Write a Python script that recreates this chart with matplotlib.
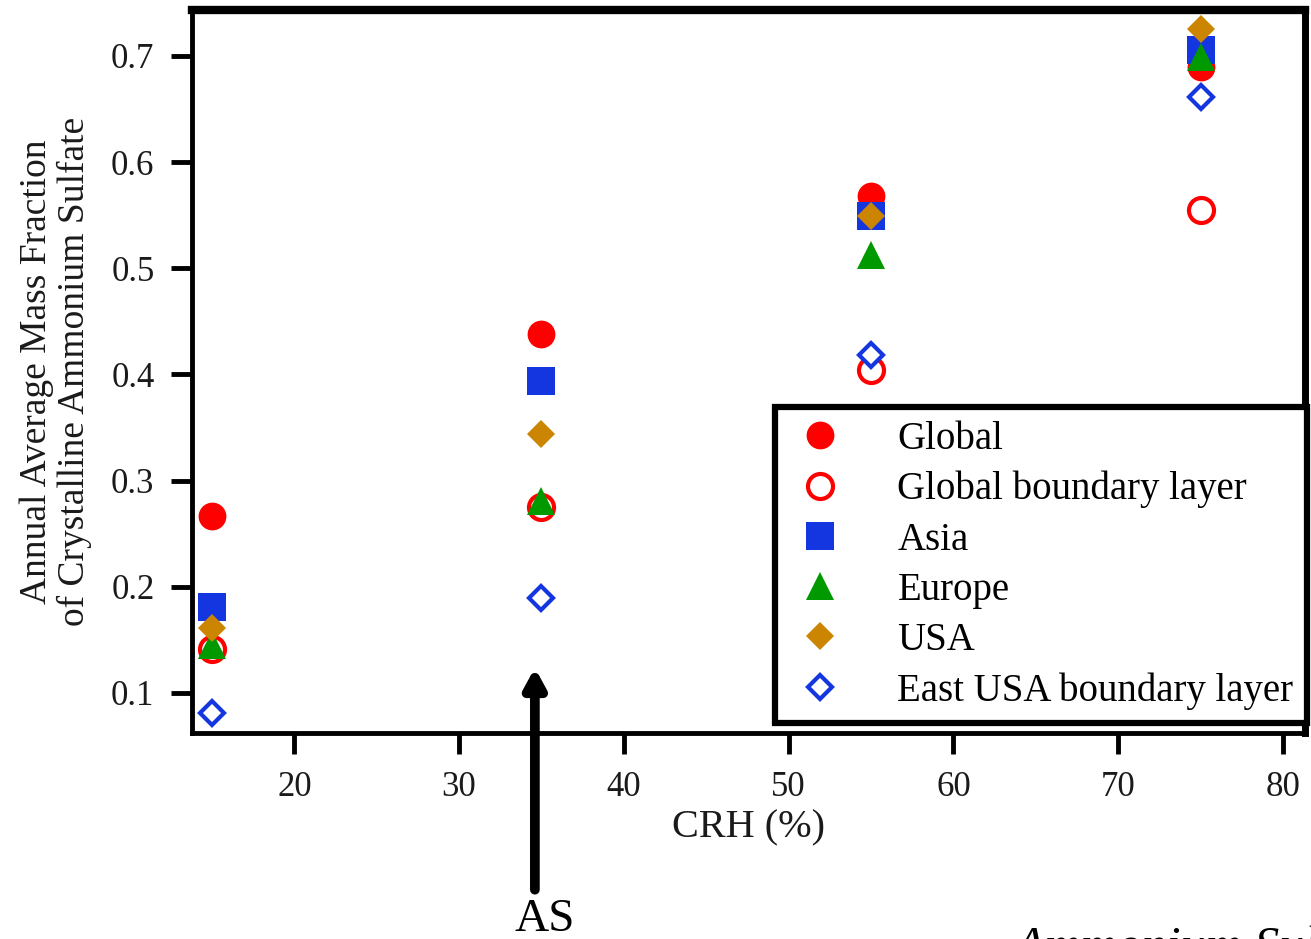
import matplotlib
matplotlib.use("Agg")
import matplotlib.pyplot as plt

plt.rcParams['font.family'] = ['Liberation Serif', 'DejaVu Serif']

crh = [15, 35, 55, 75]
global_vals = [0.267, 0.438, 0.568, 0.690]
global_bl = [0.141, 0.275, 0.404, 0.555]
asia = [0.181, 0.394, 0.549, 0.706]
europe = [0.145, 0.281, 0.513, 0.699]
usa = [0.161, 0.344, 0.549, 0.725]
east_usa_bl = [0.081, 0.189, 0.418, 0.661]

series_labels = ["Global", "Global boundary layer", "Asia", "Europe", "USA",
                 "East USA boundary layer"]
x_ticks = [20, 30, 40, 50, 60, 70, 80]
y_ticks = [0.1, 0.2, 0.3, 0.4, 0.5, 0.6, 0.7]

RED = '#ff0000'
BLUE = '#1436e0'
GREEN = '#009a00'
GOLD = '#cc8500'

fig = plt.figure(figsize=(13.11, 9.39), dpi=100)
ax = fig.add_axes([192/1311, 1-733/939, (1305-192)/1311, (733-10)/939])

ax.plot(crh, global_vals, ls='none', marker='o', ms=20, mfc=RED, mec=RED, mew=0, label=series_labels[0], zorder=3)
ax.plot(crh, global_bl, ls='none', marker='o', ms=18, mfc='white', mec=RED, mew=3, label=series_labels[1], zorder=3)
ax.plot(crh, asia, ls='none', marker='s', ms=20, mfc=BLUE, mec=BLUE, mew=0, label=series_labels[2], zorder=3)
ax.plot(crh, europe, ls='none', marker='^', ms=20, mfc=GREEN, mec=GREEN, mew=0, label=series_labels[3], zorder=4)
ax.plot(crh, usa, ls='none', marker='D', ms=14, mfc=GOLD, mec=GOLD, mew=0, label=series_labels[4], zorder=4)
ax.plot(crh, east_usa_bl, ls='none', marker='D', ms=12.5, mfc='white', mec=BLUE, mew=3, label=series_labels[5], zorder=5)

ax.set_xlim(13.79, 81.34)
ax.set_ylim(0.0623, 0.7433)
ax.set_xticks(x_ticks)
ax.set_yticks(y_ticks)
ax.set_xticklabels([str(t) for t in x_ticks])
ax.set_yticklabels([f"{t:.1f}" for t in y_ticks])

ax.tick_params(axis='both', direction='out', length=15, width=3.5, labelsize=25,
               colors='black', labelcolor='#1a1a1a', pad=12)
for side in ['left', 'bottom', 'right']:
    ax.spines[side].set_linewidth(3.5)
ax.spines['top'].set_linewidth(6)
ax.spines['right'].set_linewidth(5)

ax.set_xlabel("CRH (%)", fontsize=29, color='#1a1a1a', labelpad=4)
ax.set_ylabel("Annual Average Mass Fraction\nof Crystalline Ammonium Sulfate",
              fontsize=27, color='#1a1a1a', labelpad=14, linespacing=1.1)

leg = ax.legend(loc='upper right', bbox_to_anchor=(1307/1311, 1-407/939),
                bbox_transform=fig.transFigure, fontsize=28, frameon=True,
                fancybox=False, edgecolor='black', framealpha=1, borderpad=0.35,
                handletextpad=1.2, labelspacing=0.34, borderaxespad=0,
                handlelength=1.6, numpoints=1)
leg.get_frame().set_linewidth(4.5)
leg.set_zorder(10)

# arrow marking AS CRH
ax.annotate("", xy=(34.6, 0.1237), xytext=(34.6, -0.0853),
            xycoords='data', textcoords='data', annotation_clip=False,
            arrowprops=dict(arrowstyle='-|>,head_width=0.6,head_length=1.1',
                            lw=7, color='black', shrinkA=0, shrinkB=0))
fig.text(545/1311, 1-920/939, "AS", fontsize=34, ha='center', va='center')
fig.text(1015/1311, 1-925/939, "Ammonium Sulfate", fontsize=36, style='italic',
         ha='left', va='top')

fig.savefig("out.png", dpi=100)
